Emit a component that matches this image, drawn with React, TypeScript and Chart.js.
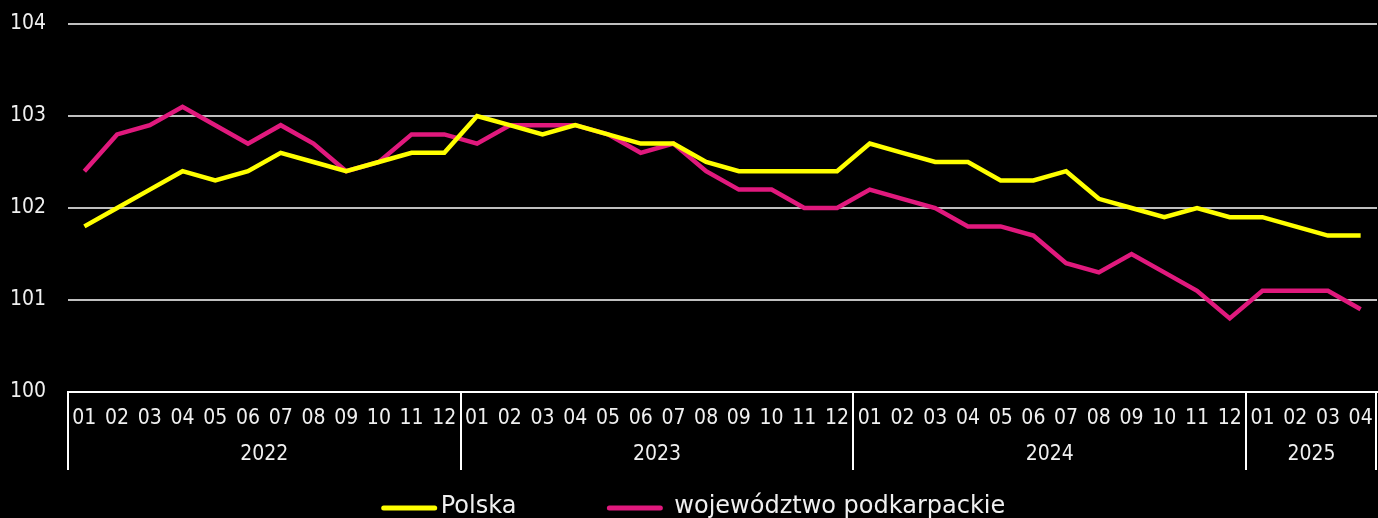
import React, { useEffect, useRef } from "react";
import { Chart, registerables } from "chart.js";

Chart.register(...registerables);

const years = ["2022", "2023", "2024", "2025"];
const monthsPerYear = [12, 12, 12, 4];
const monthLabels = [
  "01", "02", "03", "04", "05", "06", "07", "08", "09", "10", "11", "12",
  "01", "02", "03", "04", "05", "06", "07", "08", "09", "10", "11", "12",
  "01", "02", "03", "04", "05", "06", "07", "08", "09", "10", "11", "12",
  "01", "02", "03", "04",
];
const polska = [
  101.8, 102.0, 102.2, 102.4, 102.3, 102.4, 102.6, 102.5, 102.4, 102.5, 102.6, 102.6,
  103.0, 102.9, 102.8, 102.9, 102.8, 102.7, 102.7, 102.5, 102.4, 102.4, 102.4, 102.4,
  102.7, 102.6, 102.5, 102.5, 102.3, 102.3, 102.4, 102.1, 102.0, 101.9, 102.0, 101.9,
  101.9, 101.8, 101.7, 101.7,
];
const podkarpackie = [
  102.4, 102.8, 102.9, 103.1, 102.9, 102.7, 102.9, 102.7, 102.4, 102.5, 102.8, 102.8,
  102.7, 102.9, 102.9, 102.9, 102.8, 102.6, 102.7, 102.4, 102.2, 102.2, 102.0, 102.0,
  102.2, 102.1, 102.0, 101.8, 101.8, 101.7, 101.4, 101.3, 101.5, 101.3, 101.1, 100.8,
  101.1, 101.1, 101.1, 100.9,
];
const seriesNames = ["Polska", "województwo podkarpackie"];
const seriesColors = ["#ffff00", "#e0197d"];
const yMin = 100;
const yMax = 104;
const yStep = 1;

const tickFont = "'DejaVu Sans Condensed', 'Liberation Sans Narrow', sans-serif";
const legendFont = "'DejaVu Sans', 'Open Sans', sans-serif";
const textColor = "#f0f0f0";

const yearRowPlugin = {
  id: "yearRow",
  afterDraw(chart: any) {
    const { ctx, chartArea, scales } = chart;
    const x = scales.x;
    const half = (x.getPixelForValue(1) - x.getPixelForValue(0)) / 2;
    const top = chartArea.bottom;
    const lineBottom = top + 78;
    ctx.save();
    ctx.strokeStyle = "#ffffff";
    ctx.lineWidth = 2;
    ctx.fillStyle = textColor;
    ctx.font = `21px ${tickFont}`;
    ctx.textAlign = "center";
    ctx.textBaseline = "middle";
    let start = 0;
    years.forEach((yr, i) => {
      const n = monthsPerYear[i];
      const x0 = x.getPixelForValue(start) - half;
      const x1 = x.getPixelForValue(start + n - 1) + half;
      ctx.beginPath();
      ctx.moveTo(Math.round(x0), top);
      ctx.lineTo(Math.round(x0), lineBottom);
      ctx.stroke();
      if (i === years.length - 1) {
        ctx.beginPath();
        ctx.moveTo(Math.round(x1) - 1, top);
        ctx.lineTo(Math.round(x1) - 1, lineBottom);
        ctx.stroke();
      }
      ctx.fillText(yr, (x0 + x1) / 2, top + 63);
      start += n;
    });
    ctx.restore();
  },
};

const legendPlugin = {
  id: "customLegend",
  afterDraw(chart: any) {
    const { ctx } = chart;
    const lineLen = 55;
    const gaps = [4, 12];
    const itemGap = 91;
    const y = 508;
    ctx.save();
    ctx.font = `24px ${legendFont}`;
    const widths = seriesNames.map((s) => ctx.measureText(s).width);
    let total = 0;
    widths.forEach((w, i) => {
      total += lineLen + gaps[i] + w;
      if (i < widths.length - 1) total += itemGap;
    });
    let cx = 693.5 - total / 2;
    seriesNames.forEach((name, i) => {
      ctx.strokeStyle = seriesColors[i];
      ctx.lineWidth = 5;
      ctx.lineCap = "round";
      ctx.beginPath();
      ctx.moveTo(cx + 2, y);
      ctx.lineTo(cx + lineLen - 2, y);
      ctx.stroke();
      ctx.fillStyle = textColor;
      ctx.textAlign = "left";
      ctx.textBaseline = "middle";
      ctx.fillText(name, cx + lineLen + gaps[i], y - 1);
      cx += lineLen + gaps[i] + widths[i] + itemGap;
    });
    ctx.restore();
  },
};

export default function App() {
  const canvasRef = useRef<HTMLCanvasElement | null>(null);

  useEffect(() => {
    const canvas = canvasRef.current;
    if (!canvas) return;
    const chart = new Chart(canvas, {
      type: "line",
      data: {
        labels: monthLabels,
        datasets: [
          {
            label: seriesNames[0],
            data: polska,
            borderColor: seriesColors[0],
            backgroundColor: seriesColors[0],
            borderWidth: 4.5,
            pointRadius: 0,
            tension: 0,
          },
          {
            label: seriesNames[1],
            data: podkarpackie,
            borderColor: seriesColors[1],
            backgroundColor: seriesColors[1],
            borderWidth: 4.5,
            pointRadius: 0,
            tension: 0,
          },
        ],
      },
      options: {
        animation: false,
        responsive: false,
        maintainAspectRatio: false,
        layout: { padding: { left: 10, top: 24, right: 1, bottom: 0 } },
        plugins: {
          legend: { display: false },
          tooltip: { enabled: false },
        },
        scales: {
          x: {
            offset: true,
            grid: { display: false, drawTicks: false },
            border: { display: true, color: "#ffffff", width: 2 },
            ticks: {
              color: textColor,
              font: { family: tickFont, size: 21 },
              padding: 14,
              maxRotation: 0,
              autoSkip: false,
            },
            afterFit(scale: any) {
              scale.height = 126;
              scale.paddingLeft = 0;
              scale.paddingRight = 0;
            },
          },
          y: {
            min: yMin,
            max: yMax,
            grid: {
              color: (c: any) => (c.tick && c.tick.value === yMin ? "rgba(0,0,0,0)" : "#bfbfbf"),
              lineWidth: 2,
              drawTicks: false,
            },
            border: { display: false },
            ticks: {
              stepSize: yStep,
              color: textColor,
              font: { family: tickFont, size: 21 },
              crossAlign: "far",
              padding: 0,
            },
            afterFit(scale: any) {
              scale.width = 58;
            },
          },
        },
      },
      plugins: [yearRowPlugin, legendPlugin],
    });
    return () => chart.destroy();
  }, []);

  return (
    <div
      style={{
        position: "fixed",
        left: 0,
        top: 0,
        width: 1378,
        height: 518,
        background: "#000",
      }}
    >
      <canvas ref={canvasRef} width={1378} height={518} style={{ display: "block" }} />
    </div>
  );
}
